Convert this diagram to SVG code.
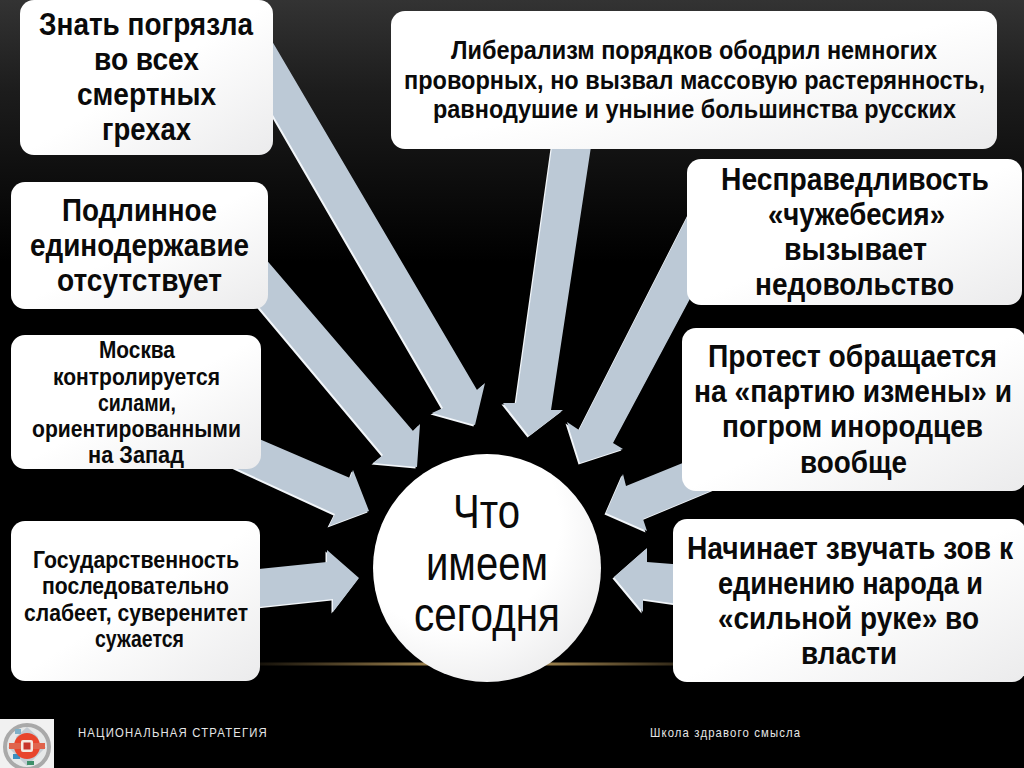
<svg xmlns="http://www.w3.org/2000/svg" width="1024" height="768" viewBox="0 0 1024 768">
<defs>
<linearGradient id="bg" x1="0" y1="0" x2="0" y2="1"><stop offset="0" stop-color="#333"/><stop offset="0.12" stop-color="#1c1c1c"/><stop offset="0.34" stop-color="#000"/></linearGradient>
<linearGradient id="box" x1="0" y1="0" x2="1" y2="1"><stop offset="0.5" stop-color="#fff"/><stop offset="1" stop-color="#ebebec"/></linearGradient>
<radialGradient id="ball" cx="0.35" cy="0.3" r="0.85"><stop offset="0.55" stop-color="#fff"/><stop offset="1" stop-color="#e8e8e9"/></radialGradient>
<linearGradient id="gold" x1="0" y1="0" x2="1" y2="0"><stop offset="0" stop-color="#b8965a" stop-opacity="0"/><stop offset="0.5" stop-color="#d0ac66"/><stop offset="1" stop-color="#b8965a" stop-opacity="0"/></linearGradient>
<filter id="soft" x="-5%" y="-5%" width="110%" height="110%"><feGaussianBlur stdDeviation="0.5"/></filter>
</defs>
<style>
.ar{fill:#bcc9d6}
.hl{fill:#f2f6fa;filter:url(#soft)}
.bx{fill:url(#box)}
text{font-family:"Liberation Sans",Arial,sans-serif;fill:#0a0a0a}
.b{font-weight:bold}
.l{font-size:32px}
.m{font-size:26px}
.s{font-size:24px}
.c{font-size:48px}
.f{font-size:13px;fill:#e6e6e6}
</style>
<rect width="1024" height="768" fill="url(#bg)"/>
<rect x="230" y="662.5" width="514" height="3" fill="url(#gold)"/>
<g id="connectors">
<g transform="translate(-1.5,1.5)">
<polygon class="hl" points="262,24 477,390 485,383 475,425 432,413 443,408 262,96"/>
<polygon class="hl" points="258,250 413,431 420,424 417,467 373,463 383,455 254,301"/>
<polygon class="hl" points="250,435 350,478 353,470 369,511 329,526 335,514 233,467"/>
<polygon class="hl" points="250,570 327,562 327,550 359,578 333,612 333,599 250,608"/>
<polygon class="hl" points="553,140 516,403 503,403 529,436 563,410 551,410 592,140"/>
<polygon class="hl" points="700,192 579,430 567,422 580,463 623,449 613,443 700,280"/>
<polygon class="hl" points="695,458 626,486 623,474 606,513 647,531 643,519 720,487"/>
<polygon class="hl" points="685,565 647,562 647,548 614,577 643,612 643,599 685,605"/>
</g>
<polygon class="ar" points="262,24 477,390 485,383 475,425 432,413 443,408 262,96"/>
<polygon class="ar" points="258,250 413,431 420,424 417,467 373,463 383,455 254,301"/>
<polygon class="ar" points="250,435 350,478 353,470 369,511 329,526 335,514 233,467"/>
<polygon class="ar" points="250,570 327,562 327,550 359,578 333,612 333,599 250,608"/>
<polygon class="ar" points="553,140 516,403 503,403 529,436 563,410 551,410 592,140"/>
<polygon class="ar" points="700,192 579,430 567,422 580,463 623,449 613,443 700,280"/>
<polygon class="ar" points="695,458 626,486 623,474 606,513 647,531 643,519 720,487"/>
<polygon class="ar" points="685,565 647,562 647,548 614,577 643,612 643,599 685,605"/>
</g>
<g id="n1"><rect class="bx" x="20" y="0" width="253" height="155" rx="14"/>
<text class="b l" transform="matrix(.885 0 0 1 39 35)" textLength="241.8" lengthAdjust="spacingAndGlyphs">Знать погрязла</text>
<text class="b l" transform="matrix(.885 0 0 1 94 70)" textLength="118.6" lengthAdjust="spacingAndGlyphs">во всех</text>
<text class="b l" transform="matrix(.885 0 0 1 77 105)" textLength="157.1" lengthAdjust="spacingAndGlyphs">смертных</text>
<text class="b l" transform="matrix(.885 0 0 1 102 140)" textLength="100.6" lengthAdjust="spacingAndGlyphs">грехах</text></g>
<g id="n2"><rect class="bx" x="11" y="182" width="257" height="127" rx="14"/>
<text class="b l" transform="matrix(.885 0 0 1 62 221)" textLength="175.1" lengthAdjust="spacingAndGlyphs">Подлинное</text>
<text class="b l" transform="matrix(.885 0 0 1 30 256)" textLength="247.5" lengthAdjust="spacingAndGlyphs">единодержавие</text>
<text class="b l" transform="matrix(.885 0 0 1 57 291)" textLength="186.4" lengthAdjust="spacingAndGlyphs">отсутствует</text></g>
<g id="n3"><rect class="bx" x="11" y="335" width="250" height="134" rx="14"/>
<text class="b s" transform="matrix(.9 0 0 1 99 358)" textLength="84.4" lengthAdjust="spacingAndGlyphs">Москва</text>
<text class="b s" transform="matrix(.9 0 0 1 53 385)" textLength="185.6" lengthAdjust="spacingAndGlyphs">контролируется</text>
<text class="b s" transform="matrix(.9 0 0 1 98 411)" textLength="86.7" lengthAdjust="spacingAndGlyphs">силами,</text>
<text class="b s" transform="matrix(.9 0 0 1 32 437)" textLength="232.2" lengthAdjust="spacingAndGlyphs">ориентированными</text>
<text class="b s" transform="matrix(.9 0 0 1 88 463)" textLength="106.7" lengthAdjust="spacingAndGlyphs">на Запад</text></g>
<g id="n4"><rect class="bx" x="11" y="521" width="249" height="160" rx="14"/>
<text class="b s" transform="matrix(.9 0 0 1 33 568)" textLength="228.9" lengthAdjust="spacingAndGlyphs">Государственность</text>
<text class="b s" transform="matrix(.9 0 0 1 42 594)" textLength="207.8" lengthAdjust="spacingAndGlyphs">последовательно</text>
<text class="b s" transform="matrix(.9 0 0 1 24 621)" textLength="248.9" lengthAdjust="spacingAndGlyphs">слабеет, суверенитет</text>
<text class="b s" transform="matrix(.9 0 0 1 95 647)" textLength="98.9" lengthAdjust="spacingAndGlyphs">сужается</text></g>
<g id="n5"><rect class="bx" x="391" y="11" width="606" height="138" rx="14"/>
<text class="b m" transform="matrix(.905 0 0 1 451 59)" textLength="537" lengthAdjust="spacingAndGlyphs">Либерализм порядков ободрил немногих</text>
<text class="b m" transform="matrix(.905 0 0 1 404 89)" textLength="642" lengthAdjust="spacingAndGlyphs">проворных, но вызвал массовую растерянность,</text>
<text class="b m" transform="matrix(.905 0 0 1 433 118)" textLength="577.9" lengthAdjust="spacingAndGlyphs">равнодушие и уныние большинства русских</text></g>
<g id="n6"><rect class="bx" x="687" y="159" width="335" height="146" rx="14"/>
<text class="b l" transform="matrix(.885 0 0 1 721 190)" textLength="302.8" lengthAdjust="spacingAndGlyphs">Несправедливость</text>
<text class="b l" transform="matrix(.885 0 0 1 768 225)" textLength="200" lengthAdjust="spacingAndGlyphs">«чужебесия»</text>
<text class="b l" transform="matrix(.885 0 0 1 784 260)" textLength="161.6" lengthAdjust="spacingAndGlyphs">вызывает</text>
<text class="b l" transform="matrix(.885 0 0 1 755 295)" textLength="224.9" lengthAdjust="spacingAndGlyphs">недовольство</text></g>
<g id="n7"><rect class="bx" x="682" y="328" width="344" height="163" rx="14"/>
<text class="b l" transform="matrix(.885 0 0 1 708 367)" textLength="326.6" lengthAdjust="spacingAndGlyphs">Протест обращается</text>
<text class="b l" transform="matrix(.885 0 0 1 694 402)" textLength="359.3" lengthAdjust="spacingAndGlyphs">на «партию измены» и</text>
<text class="b l" transform="matrix(.885 0 0 1 722 437)" textLength="294.9" lengthAdjust="spacingAndGlyphs">погром инородцев</text>
<text class="b l" transform="matrix(.885 0 0 1 800 473)" textLength="120.9" lengthAdjust="spacingAndGlyphs">вообще</text></g>
<g id="n8"><rect class="bx" x="673" y="519" width="353" height="163" rx="14"/>
<text class="b l" transform="matrix(.885 0 0 1 687 559)" textLength="368.4" lengthAdjust="spacingAndGlyphs">Начинает звучать зов к</text>
<text class="b l" transform="matrix(.885 0 0 1 718 594)" textLength="299.4" lengthAdjust="spacingAndGlyphs">единению народа и</text>
<text class="b l" transform="matrix(.885 0 0 1 718 629)" textLength="294.9" lengthAdjust="spacingAndGlyphs">«сильной руке» во</text>
<text class="b l" transform="matrix(.885 0 0 1 801 664)" textLength="108.5" lengthAdjust="spacingAndGlyphs">власти</text></g>
<g id="center"><circle cx="487" cy="568" r="114" fill="url(#ball)"/>
<text class="c" transform="matrix(.88 0 0 1 453 528)" textLength="76.1" lengthAdjust="spacingAndGlyphs">Что</text>
<text class="c" transform="matrix(.88 0 0 1 426 580)" textLength="138.6" lengthAdjust="spacingAndGlyphs">имеем</text>
<text class="c" transform="matrix(.88 0 0 1 414 631)" textLength="165.9" lengthAdjust="spacingAndGlyphs">сегодня</text></g>
<g id="logo">
<rect x="0" y="719" width="54" height="49" fill="#f1f1f1"/>
<circle cx="27" cy="747" r="22" fill="#e6e8e8" stroke="#a9a9a9" stroke-width="4"/>
<polygon points="27,727 38,737 36,747 46,747 36,757 27,766 18,757 8,747 18,745 16,737" fill="#c4cbd2"/>
<rect x="13" y="754" width="7" height="5" fill="#3b8fc0"/>
<rect x="27" y="761" width="7" height="4" fill="#3f8f6a"/>
<rect x="15" y="729" width="6" height="5" fill="#7fb0c8"/>
<circle cx="27" cy="746" r="13" fill="#e8452c"/>
<rect x="9" y="743" width="36" height="6" fill="#e0644c"/>
<rect x="21" y="740" width="12" height="12" rx="2" fill="#f4e9e0"/>
<rect x="23.5" y="742.5" width="7" height="7" fill="#c8342a"/>
</g>
<g id="footer">
<text class="f" transform="matrix(.87 0 0 1 78 737)" textLength="217">НАЦИОНАЛЬНАЯ СТРАТЕГИЯ</text>
<text class="f" transform="matrix(.87 0 0 1 650 737)" textLength="172.4">Школа здравого смысла</text>
</g>
</svg>
